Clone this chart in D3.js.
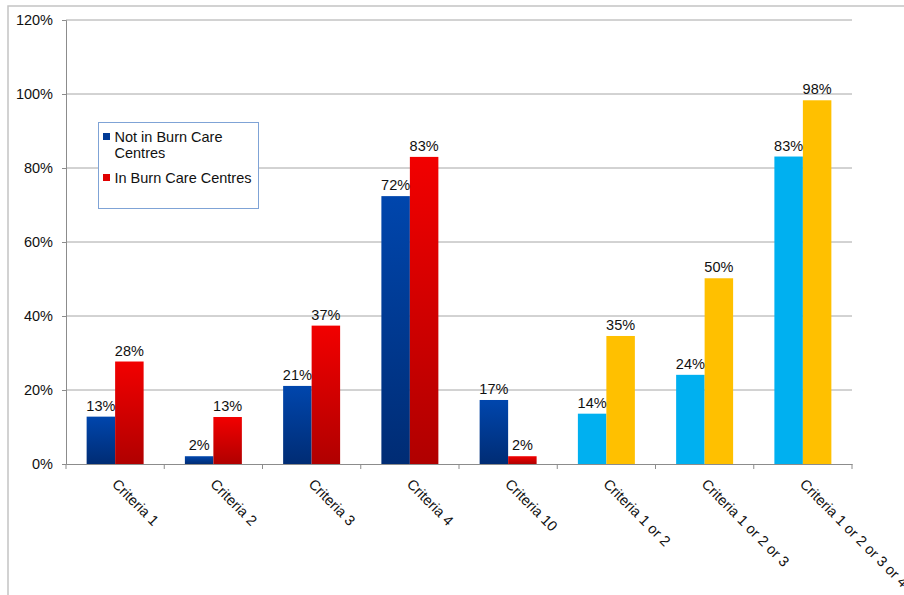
<!DOCTYPE html>
<html>
<head>
<meta charset="utf-8">
<script src="https://cdn.jsdelivr.net/npm/d3@7"></script>
<style>
  html, body { margin: 0; padding: 0; background: #fff; }
  svg { display: block; font-family: "Liberation Sans", Arial, sans-serif; }
</style>
</head>
<body>
<svg id="chart" width="904" height="595"></svg>
<script>
// Share of patients meeting each referral criterion
const categories = [
  "Criteria 1", "Criteria 2", "Criteria 3", "Criteria 4", "Criteria 10",
  "Criteria 1 or 2", "Criteria 1 or 2 or 3", "Criteria 1 or 2 or 3 or 4"
];
const notInBurnCare = [0.128, 0.021, 0.211, 0.724, 0.173, 0.136, 0.241, 0.831];
const inBurnCare    = [0.277, 0.127, 0.374, 0.830, 0.021, 0.346, 0.502, 0.983];
// the last three categories are combined criteria
const combined = [false, false, false, false, false, true, true, true];
const seriesNames = ["Not in Burn Care Centres", "In Burn Care Centres"];
const yTicks = [0, 0.2, 0.4, 0.6, 0.8, 1.0, 1.2];

const svg = d3.select("#chart");
const margin = { left: 66, right: 852, top: 20, bottom: 464 };

// outer chart border (only top and left edges fall inside the view)
svg.append("path")
  .attr("d", "M8,595 V6 H904")
  .attr("fill", "none")
  .attr("stroke", "#c4c4c4")
  .attr("stroke-width", 1.5);

const defs = svg.append("defs");
function vGrad(id, top, bottom) {
  const g = defs.append("linearGradient").attr("id", id)
    .attr("x1", 0).attr("y1", 0).attr("x2", 0).attr("y2", 1);
  g.append("stop").attr("offset", "0%").attr("stop-color", top);
  g.append("stop").attr("offset", "100%").attr("stop-color", bottom);
}
vGrad("gBlue", "#0046ad", "#002c74");
vGrad("gRed", "#f20000", "#b00000");

const fills = [
  (i) => combined[i] ? "#00b0f0" : "url(#gBlue)",
  (i) => combined[i] ? "#ffc000" : "url(#gRed)"
];

const x0 = d3.scaleBand().domain(categories).range([margin.left, margin.right]);
const groupW = x0.bandwidth() * 0.58;
const x1 = d3.scaleBand().domain([0, 1]).range([0, groupW]);
const y = d3.scaleLinear().domain([0, 1.2]).range([margin.bottom, margin.top]);

// gridlines
svg.append("g")
  .selectAll("line")
  .data(yTicks.filter(t => t > 0))
  .join("line")
  .attr("x1", margin.left).attr("x2", margin.right)
  .attr("y1", d => y(d)).attr("y2", d => y(d))
  .attr("stroke", "#a6a6a6").attr("stroke-width", 1);

// y axis
const yAxis = d3.axisLeft(y).tickValues(yTicks)
  .tickFormat(d3.format(".0%")).tickSize(4).tickPadding(9);
const gy = svg.append("g").attr("transform", `translate(${margin.left},0)`).call(yAxis);
gy.select(".domain").attr("stroke", "#8c8c8c");
gy.selectAll(".tick line").attr("stroke", "#8c8c8c");
gy.selectAll(".tick text")
  .attr("font-size", "14.5px").attr("fill", "#111")
  .attr("font-family", "Liberation Sans, Arial, sans-serif");

// bars
const rows = categories.map((c, i) => ({ c, i, vals: [notInBurnCare[i], inBurnCare[i]] }));
const groups = svg.append("g").selectAll("g")
  .data(rows).join("g")
  .attr("transform", d => `translate(${x0(d.c) + (x0.bandwidth() - groupW) / 2},0)`);

groups.selectAll("rect")
  .data(d => d.vals.map((v, s) => ({ v, s, i: d.i })))
  .join("rect")
  .attr("x", d => x1(d.s))
  .attr("width", x1.bandwidth())
  .attr("y", d => y(d.v))
  .attr("height", d => y(0) - y(d.v))
  .attr("fill", d => fills[d.s](d.i));

groups.selectAll("text")
  .data(d => d.vals.map((v, s) => ({ v, s })))
  .join("text")
  .attr("x", d => x1(d.s) + x1.bandwidth() / 2)
  .attr("y", d => y(d.v) - 6)
  .attr("text-anchor", "middle")
  .attr("font-size", "14.5px")
  .attr("fill", "#111")
  .text(d => d3.format(".0%")(d.v));

// x axis
const xAxis = d3.axisBottom(x0).tickSize(0).tickFormat("");
const gx = svg.append("g").attr("transform", `translate(0,${margin.bottom})`).call(xAxis);
gx.select(".domain").attr("stroke", "#8c8c8c");
// category boundary ticks
svg.append("g").selectAll("line")
  .data(d3.range(categories.length + 1))
  .join("line")
  .attr("x1", i => margin.left + i * x0.bandwidth())
  .attr("x2", i => margin.left + i * x0.bandwidth())
  .attr("y1", margin.bottom).attr("y2", margin.bottom + 5)
  .attr("stroke", "#8c8c8c");

// rotated category labels
svg.append("g").selectAll("text")
  .data(categories)
  .join("text")
  .attr("transform", d => `translate(${x0(d) + x0.bandwidth() / 2 - 4},${margin.bottom + 21}) rotate(45)`)
  .attr("font-size", "14.5px")
  .attr("fill", "#111")
  .text(d => d);

// legend
const lg = svg.append("g").attr("transform", "translate(98.5,122.5)");
lg.append("rect").attr("width", 160).attr("height", 86)
  .attr("fill", "#fff").attr("stroke", "#7fa3d6").attr("stroke-width", 1);
const legendItems = [
  { lines: ["Not in Burn Care", "Centres"], fill: "#003a96", y: 19.5 },
  { lines: ["In Burn Care Centres"], fill: "#e00000", y: 60.5 }
];
legendItems.forEach((it, k) => {
  lg.append("rect").attr("x", 4.5).attr("y", it.y - 9).attr("width", 7).attr("height", 7)
    .attr("fill", it.fill);
  const t = lg.append("text").attr("x", 16).attr("y", it.y)
    .attr("font-size", "14.5px").attr("fill", "#111");
  it.lines.forEach((ln, j) => {
    t.append("tspan").attr("x", 16).attr("dy", j === 0 ? 0 : 15.5).text(ln);
  });
  t.datum(seriesNames[k]);
});
</script>
</body>
</html>
